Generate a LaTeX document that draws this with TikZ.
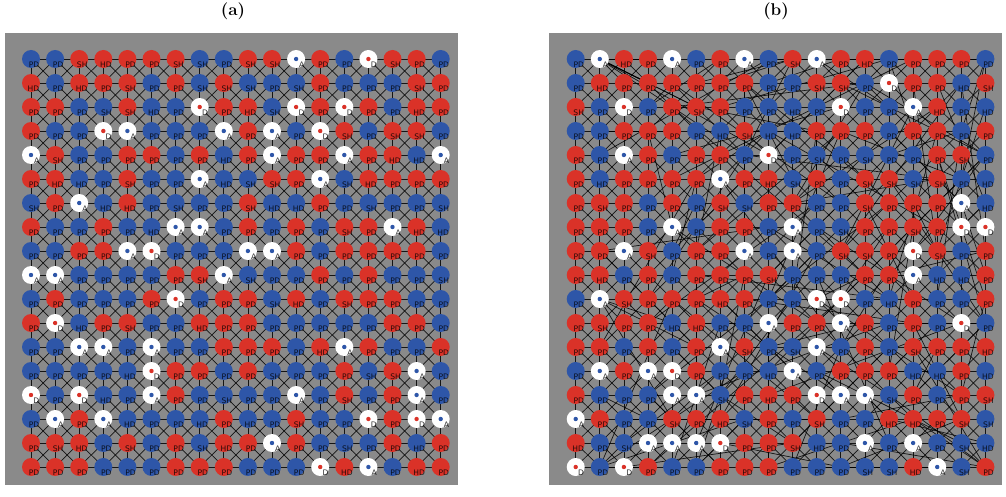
\documentclass[tikz,border=0pt]{standalone}
\usepackage{fontspec}
\newfontfamily\lblfont{DejaVu Sans}
\usepackage{xcolor}
\usepackage{tikz}
\definecolor{panelgray}{RGB}{138,138,138}
\definecolor{agentred}{RGB}{218,50,40}
\definecolor{agentblue}{RGB}{46,86,168}
\pgfdeclarelayer{back}
\pgfdeclarelayer{links}
\pgfsetlayers{back,links,main}

% label codes
\def\labP{PD}\def\labS{SH}\def\labH{HD}\def\labA{A}\def\labD{D}

% panel (a): one row per line, colour/label
\def\gridA{%
{b/P,b/P,r/S,r/H,r/P,r/P,r/S,b/S,b/P,r/S,r/S,a/A,r/P,b/P,d/D,r/S,r/P,b/P},
{r/H,b/P,r/H,r/P,r/S,b/P,r/P,b/S,r/S,b/S,b/P,b/S,r/P,b/P,b/P,b/P,r/S,r/P},
{r/P,r/P,b/P,b/S,r/S,b/H,b/P,d/D,r/P,r/H,b/S,d/D,r/P,d/D,r/P,b/P,r/H,r/P},
{r/P,b/P,b/P,d/D,a/A,b/P,b/P,b/P,a/A,r/P,a/A,b/P,d/D,r/S,b/P,r/S,r/S,b/P},
{a/A,r/S,b/P,b/P,r/P,r/P,b/P,r/P,b/H,r/P,a/A,r/P,r/P,a/A,r/P,r/H,b/H,a/A},
{r/P,r/H,b/H,b/P,r/S,b/P,b/P,a/A,b/H,b/S,r/S,r/P,a/A,b/S,r/H,r/P,r/P,r/P},
{b/S,r/P,a/A,b/H,r/H,b/P,b/S,b/P,b/P,r/S,b/H,b/H,r/P,b/P,b/S,b/P,b/P,b/S},
{r/P,b/P,b/P,r/P,b/P,b/H,a/A,a/A,b/P,r/P,b/P,r/P,b/P,r/S,r/P,a/A,r/H,b/H},
{b/P,b/P,r/P,r/P,a/A,d/D,b/P,b/P,b/P,a/A,a/A,r/P,b/P,r/P,r/P,r/P,r/P,b/P},
{a/A,a/A,b/P,b/P,b/P,b/P,r/P,r/S,a/A,b/S,b/P,b/P,r/P,b/P,r/P,b/P,b/P,b/S},
{b/P,r/P,b/P,b/P,b/P,r/P,d/D,b/P,r/P,r/P,b/S,r/H,b/P,r/S,r/P,r/P,b/P,b/P},
{r/P,d/D,b/H,r/P,r/S,b/P,b/P,r/H,r/P,r/P,b/P,b/P,b/P,b/P,b/P,r/P,r/P,b/P},
{b/P,b/P,a/A,a/A,b/P,a/A,b/P,b/P,r/P,r/P,r/P,b/P,r/H,a/A,r/P,b/P,b/P,r/P},
{b/P,b/P,b/P,b/P,b/H,d/D,r/P,r/P,b/P,r/P,b/S,b/P,b/P,r/P,b/S,r/S,a/A,b/P},
{d/D,b/P,d/D,b/H,b/P,a/A,r/P,b/P,b/S,b/P,b/P,a/A,b/P,r/S,b/P,r/P,a/A,b/P},
{b/P,a/A,r/P,a/A,b/H,b/P,b/P,b/H,r/P,b/H,b/P,r/S,b/P,b/P,d/D,r/P,d/D,a/A},
{r/P,r/S,r/H,b/P,r/S,b/P,r/P,b/S,r/H,r/P,a/A,r/P,b/P,b/S,b/P,r/P,b/H,r/P},
{r/P,r/P,r/P,b/P,b/P,b/P,r/P,r/P,r/P,b/P,b/P,b/P,d/D,r/H,a/A,b/P,r/H,r/P}}

% panel (b)
\def\gridB{%
{b/P,a/A,r/H,r/P,a/A,b/P,r/P,a/A,b/P,r/S,a/A,r/P,r/H,b/P,r/P,r/P,r/P,b/P},
{b/P,r/H,r/P,r/P,r/P,r/P,r/P,r/P,b/P,b/P,r/S,r/S,b/P,d/D,r/P,r/P,b/H,r/S},
{r/S,b/P,d/D,b/P,r/P,r/S,r/P,b/P,b/P,b/H,b/P,d/D,b/P,b/P,a/A,r/H,b/P,b/H},
{b/P,b/P,r/P,r/P,r/P,b/P,b/H,r/S,b/H,b/H,r/P,r/P,r/P,b/P,r/P,r/P,b/P,r/P},
{r/P,b/P,a/A,r/P,b/P,r/P,r/P,b/P,d/D,b/P,b/S,b/P,b/S,b/P,b/P,r/P,r/S,b/P},
{r/P,b/H,r/P,r/P,r/P,r/P,a/A,r/P,r/H,b/S,r/P,b/P,r/S,r/S,b/S,r/S,b/P,b/H},
{r/P,r/S,r/P,b/P,r/P,b/P,r/S,b/S,r/P,r/P,b/P,b/P,r/S,r/P,r/P,r/P,a/A,b/H},
{r/P,r/P,r/P,b/P,a/A,b/P,r/P,r/P,b/P,a/A,b/P,b/S,r/P,r/P,r/S,r/P,d/D,d/D},
{r/P,r/P,a/A,r/S,b/P,r/P,r/P,a/A,b/P,a/A,b/P,r/S,r/S,r/P,d/D,r/S,b/P,r/P},
{r/P,r/H,b/P,r/P,b/P,r/P,r/P,r/P,r/S,b/P,b/P,b/P,r/P,r/P,a/A,b/H,b/H,r/P},
{b/P,a/A,r/S,r/P,r/P,r/P,r/H,r/P,b/P,b/P,d/D,d/D,b/P,b/H,r/P,b/P,b/P,r/P},
{r/P,r/S,r/P,r/P,b/H,r/H,b/P,b/P,a/A,r/P,r/P,a/A,r/P,b/P,r/P,b/P,d/D,b/P},
{r/P,r/P,b/P,r/P,b/P,r/P,a/A,r/S,b/P,b/S,a/A,b/P,r/P,b/P,r/S,r/P,r/P,r/H},
{b/P,a/A,r/P,a/A,d/D,r/P,b/P,b/P,b/H,a/A,b/P,r/P,r/P,r/P,b/H,b/H,r/P,b/H},
{r/P,b/P,b/P,b/P,a/A,a/A,b/S,r/P,r/H,r/P,d/D,a/A,a/A,b/S,r/P,b/P,r/P,r/S},
{a/A,r/P,b/P,b/P,r/S,r/P,r/H,b/S,r/P,b/P,r/S,b/P,b/P,r/H,r/H,r/P,r/S,b/S},
{r/H,b/P,b/S,a/A,a/A,a/A,d/D,r/P,r/P,r/S,b/H,b/P,a/A,b/P,a/A,b/P,b/S,b/H},
{d/D,b/P,d/D,r/P,b/P,b/P,r/P,r/P,r/P,b/P,b/P,b/P,b/S,b/S,r/H,a/A,b/S,r/P}}

% #1 name prefix, #2 x of first column, #3 data
\newcommand\drawagents[3]{%
  \foreach \row [count=\j from 0] in #3 {
    \foreach \c/\t [count=\i from 0] in \row {
      \node[cell\c] (#1-\i-\j) at ({#2+24.1*\i},{59+24*\j}) {};
      \node[lbl] (#1-\i-\j-t) at ([xshift=8.5pt,yshift=-8.3pt]#1-\i-\j.center)
        {\csname lab\t\endcsname};
    }
  }
  % lattice links, king moves
  \begin{pgfonlayer}{links}
  \foreach \i in {0,...,16} {
    \foreach \j in {0,...,16} {
      \pgfmathtruncatemacro\ii{\i+1}
      \pgfmathtruncatemacro\jj{\j+1}
      \draw[link] (#1-\i-\j.center) -- (#1-\ii-\j.center);
      \draw[link] (#1-\i-\j.center) -- (#1-\i-\jj.center);
      \draw[link] (#1-\i-\j.center) -- (#1-\ii-\jj.center);
      \draw[link] (#1-\ii-\j.center) -- (#1-\i-\jj.center);
    }
    \pgfmathtruncatemacro\ii{\i+1}
    \draw[link] (#1-\i-17.center) -- (#1-\ii-17.center);
    \draw[link] (#1-17-\i.center) -- (#1-17-\ii.center);
  }
  \end{pgfonlayer}
}

\begin{document}
\begin{tikzpicture}[x=1pt,y=-1pt,
  cellb/.style={circle,fill=agentblue,minimum size=18pt,inner sep=0pt},
  cellr/.style={cellb,fill=agentred},
  cella/.style={cellb,fill=white,path picture={\fill[agentblue]
    (path picture bounding box.center) circle (2.2pt);}},
  celld/.style={cellb,fill=white,path picture={\fill[agentred]
    (path picture bounding box.center) circle (2.2pt);}},
  lbl/.style={anchor=base east,inner sep=0pt,text=black,text opacity=0.8,
    font=\lblfont\fontsize{7.6}{8}\selectfont},
  link/.style={draw=black,line width=0.7pt,opacity=0.85},
  ttl/.style={font=\fontsize{17}{20}\selectfont\bfseries}]
\useasboundingbox (0,0) rectangle (1006,497);

\node[ttl] (ttla) at (233,11) {(a)};
\node[ttl] (ttlb) at (776,11) {(b)};

\begin{pgfonlayer}{back}
\fill[panelgray] (5,33) rectangle (458,485);
\fill[panelgray] (549,33) rectangle (1002,485);
\end{pgfonlayer}

\drawagents{a}{31}{\gridA}
\drawagents{b}{575.7}{\gridB}

% rewired long-range links in (b)
\pgfmathsetseed{31}
\begin{pgfonlayer}{links}
\foreach \k in {1,...,160} {
  \pgfmathtruncatemacro\ia{random(3,16)}
  \pgfmathtruncatemacro\ja{random(0,17)}
  \pgfmathtruncatemacro\ib{max(1,min(17,\ia+random(-8,8)))}
  \pgfmathtruncatemacro\jb{max(0,min(17,\ja+random(-7,7)))}
  \draw[link] (b-\ia-\ja.center) -- (b-\ib-\jb.center);
}
\end{pgfonlayer}
\end{tikzpicture}
\end{document}
